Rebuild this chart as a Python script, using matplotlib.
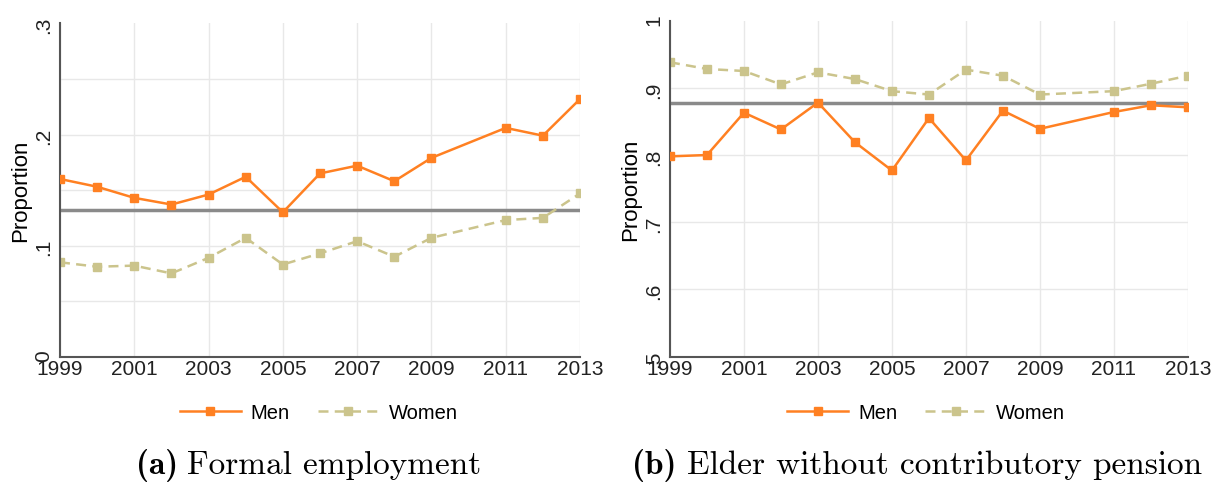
import numpy as np
import matplotlib
matplotlib.use("Agg")
import matplotlib.pyplot as plt

plt.rcParams['font.family'] = ['Liberation Sans', 'DejaVu Sans']

anios = [1999, 2000, 2001, 2002, 2003, 2004, 2005, 2006, 2007, 2008, 2009, 2011, 2012, 2013]

# (a) Formal employment
formal_hombres = [0.160, 0.153, 0.143, 0.137, 0.146, 0.162, 0.130, 0.165, 0.172, 0.158,
                  0.179, 0.206, 0.199, 0.232]
formal_mujeres = [0.085, 0.081, 0.082, 0.075, 0.089, 0.107, 0.083, 0.093, 0.104, 0.090,
                  0.107, 0.123, 0.125, 0.147]
formal_ref = 0.132

# (b) Elder without contributory pension
pension_hombres = [0.798, 0.800, 0.863, 0.838, 0.878, 0.819, 0.777, 0.855, 0.792, 0.866,
                   0.839, 0.864, 0.874, 0.871]
pension_mujeres = [0.938, 0.928, 0.925, 0.905, 0.923, 0.913, 0.895, 0.890, 0.927, 0.918,
                   0.890, 0.895, 0.906, 0.918]
pension_ref = 0.8775

xticks = [1999, 2001, 2003, 2005, 2007, 2009, 2011, 2013]

col_h = '#ff8022'
col_m = '#cbc48c'


def panel(ax, hombres, mujeres, ref, ylim, yticks, yticklabels, ygrid):
    ax.set_xlim(1999, 2013)
    ax.set_ylim(*ylim)
    for g in ygrid:
        ax.axhline(g, color='#e8e8e8', lw=1, zorder=0)
    for g in xticks:
        ax.axvline(g, color='#e8e8e8', lw=1, zorder=0)
    ax.axhline(ref, color='#8a8a8a', lw=2.5, zorder=1)
    ax.plot(anios, hombres, color=col_h, lw=1.8, marker='s', ms=5.5,
            label='Men', zorder=3)
    ax.plot(anios, mujeres, color=col_m, lw=1.8, ls=(0, (4, 2.5)), marker='s',
            ms=5.5, label='Women', zorder=2)
    ax.set_xticks(xticks)
    ax.set_yticks(yticks)
    ax.set_yticklabels(yticklabels)
    ax.tick_params(axis='y', labelrotation=90, length=0, pad=5, labelsize=15,
                   colors='#222222')
    ax.tick_params(axis='x', length=0, pad=2, labelsize=15, colors='#222222')
    for s in ['top', 'right']:
        ax.spines[s].set_visible(False)
    for s in ['left', 'bottom']:
        ax.spines[s].set_color('#555555')
        ax.spines[s].set_linewidth(1.5)
    ax.set_ylabel('Proportion', fontsize=16, labelpad=2)


fig = plt.figure(figsize=(12.17, 4.85), dpi=100)
ax1 = fig.add_axes([0.0493, 0.2625, 0.4273, 0.687])
ax2 = fig.add_axes([0.5505, 0.2625, 0.4256, 0.693])

panel(ax1, formal_hombres, formal_mujeres, formal_ref, (0, 0.3),
      [0, 0.1, 0.2, 0.3], ['0', '.1', '.2', '.3'],
      [0.05, 0.1, 0.15, 0.2, 0.25])
panel(ax2, pension_hombres, pension_mujeres, pension_ref, (0.5, 1.0),
      [0.5, 0.6, 0.7, 0.8, 0.9, 1.0], ['.5', '.6', '.7', '.8', '.9', '1'],
      [0.6, 0.7, 0.8, 0.9])

for ax, xc in [(ax1, 0.262), (ax2, 0.761)]:
    ax.legend(loc='center', bbox_to_anchor=(xc, 0.148), bbox_transform=fig.transFigure,
              ncol=2, frameon=False, fontsize=14.5, handlelength=3.0,
              columnspacing=1.4, handletextpad=0.5)

# subtitulos estilo LaTeX
fig.text(0.1463, 0.04, '(a)', family='cmb10', fontsize=24, ha='right', va='center')
fig.text(0.1537, 0.04, 'Formal employment', family='cmr10', fontsize=24,
         ha='left', va='center')
fig.text(0.5555, 0.04, '(b)', family='cmb10', fontsize=24, ha='right', va='center')
fig.text(0.5645, 0.04, 'Elder without contributory pension', family='cmr10',
         fontsize=24, ha='left', va='center')

fig.savefig('out.png', dpi=100)
